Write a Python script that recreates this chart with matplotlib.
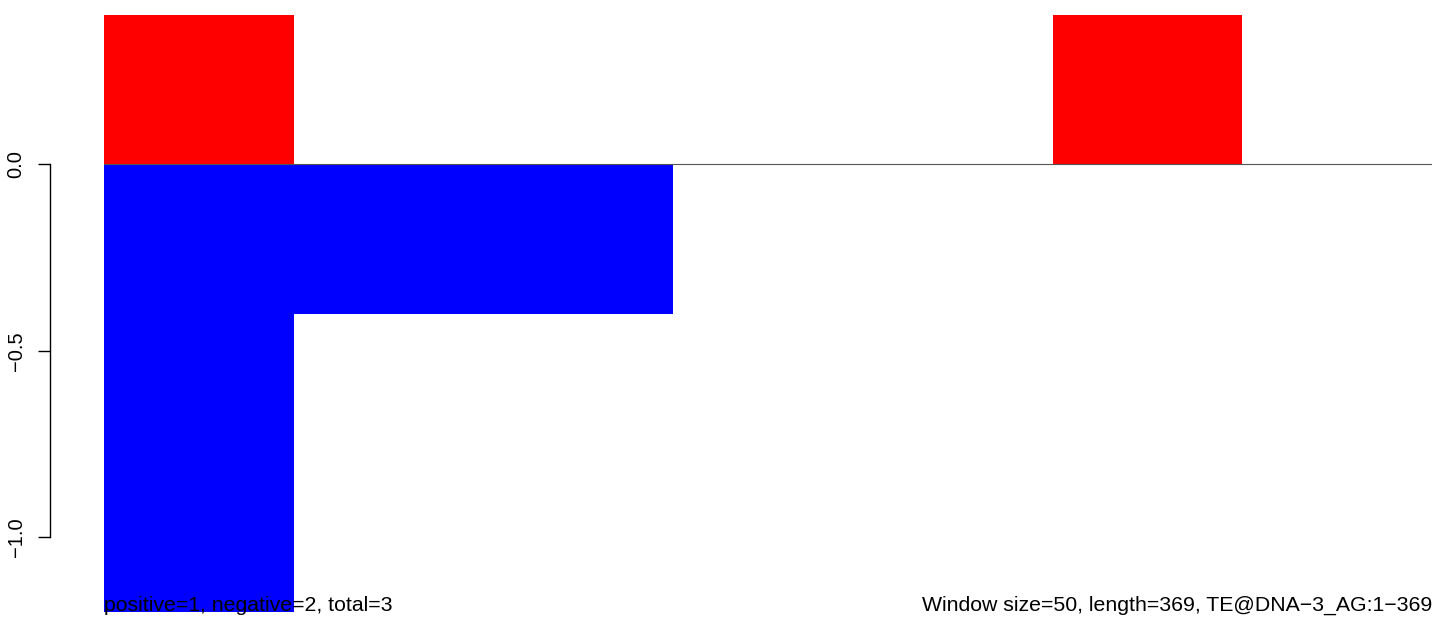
import matplotlib
matplotlib.use('Agg')
import matplotlib.pyplot as plt
import numpy as np

plt.rcParams['font.family'] = ['Liberation Sans', 'DejaVu Sans']

# windows along the element (7 bars)
windows = np.arange(7)
positive = [0.4, 0, 0, 0, 0, 0.4, 0]
negative = [-1.2, -0.4, -0.4, 0, 0, 0, 0]
ytick_vals = [0.0, -0.5, -1.0]
ytick_labels = ['0.0', '\u22120.5', '\u22121.0']
left_note = 'positive=1, negative=2, total=3'
right_note = 'Window size=50, length=369, TE@DNA\u22123_AG:1\u2212369'

W, H = 1444, 634
fig = plt.figure(figsize=(W / 100, H / 100), dpi=100)
ax = fig.add_axes([104 / W, 1 - 612 / H, (1432 - 104) / W, (612 - 15) / H])

ax.bar(windows, positive, width=1.0, align='edge', color='red', linewidth=0)
ax.bar(windows, negative, width=1.0, align='edge', color='blue', linewidth=0)
ax.axhline(0, color='#555555', linewidth=0.8)

ax.set_xlim(0, len(windows))
ax.set_ylim(-1.2, 0.4)

for s in ['top', 'right', 'bottom']:
    ax.spines[s].set_visible(False)
ax.spines['left'].set_position(('outward', 54 * 0.72))
ax.spines['left'].set_bounds(-1.0, 0.0)
ax.spines['left'].set_linewidth(1.0)
ax.set_xticks([])
ax.set_yticks(ytick_vals)
ax.set_yticklabels(ytick_labels, rotation=90, va='center', fontsize=14.5)
ax.tick_params(axis='y', length=9, width=1.0, pad=8.5)

ax.text(0, 0.002, left_note, transform=ax.transAxes, ha='left', va='baseline',
        fontsize=15.3, clip_on=False)
ax.text(1, 0.002, right_note, transform=ax.transAxes, ha='right', va='baseline',
        fontsize=15.3, clip_on=False)

fig.savefig('out.png', dpi=100)
